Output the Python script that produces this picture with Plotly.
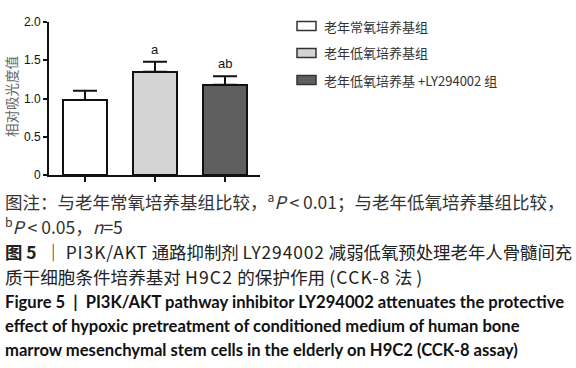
import plotly.graph_objects as go

groups = ["老年常氧培养基组", "老年低氧培养基组", "老年低氧培养基 +LY294002 组"]
values = [0.98, 1.35, 1.18]
errors = [0.12, 0.13, 0.11]
sig_labels = ["", "a", "ab"]
colors = ["#ffffff", "#d4d4d4", "#5f5f5f"]
y_ticks = [0, 0.5, 1.0, 1.5, 2.0]
y_ticklabels = ["0", "0.5", "1.0", "1.5", "2.0"]

W, H = 576, 368
L, R, T, B = 49, 260, 22, 175  # plot area in window pixels

def px(x):
    return (x - L) / (R - L)

def py(y):
    return (B - y) / (B - T)

def sp(t, ls):
    return "<span style='letter-spacing:%spx'>%s</span>" % (ls, t)

xpos = list(range(len(groups)))

fig = go.Figure()
fig.add_trace(go.Bar(
    x=xpos, y=values, width=0.64,
    marker=dict(color=colors, line=dict(color="#111111", width=2)),
    error_y=dict(type="data", symmetric=False, array=errors,
                 arrayminus=[0] * len(errors), color="#111111",
                 thickness=2, width=12),
    showlegend=False,
))

for xi, v, e, s in zip(xpos, values, errors, sig_labels):
    if s:
        fig.add_annotation(x=xi, y=v + e, text=s, showarrow=False,
                           yanchor="bottom", yshift=3,
                           font=dict(family="Liberation Sans", size=13, color="#111111"))

leg_y = [26, 53, 80]
for g, c, yy in zip(groups, colors, leg_y):
    fig.add_shape(type="rect", xref="paper", yref="paper",
                  x0=px(297), x1=px(316), y0=py(yy + 4.5), y1=py(yy - 4.5),
                  fillcolor=c, line=dict(color="#333333", width=1.5))
    fig.add_annotation(xref="paper", yref="paper", x=px(322), y=py(yy),
                       text=g, showarrow=False, xanchor="left", yanchor="middle",
                       font=dict(family="Noto Sans CJK SC", size=13, color="#333333"))

fig.add_annotation(xref="paper", yref="paper", x=px(11), y=py(97),
                   text="相对吸光度值", textangle=-90, showarrow=False,
                   xanchor="center", yanchor="middle",
                   font=dict(family="Noto Sans CJK SC", size=13.5, color="#666666"))

cap_font = "Noto Sans CJK SC"
captions = [
    (201, "图注：与老年常氧培养基组比较，<sup>a</sup><i>P</i> &lt; 0.01；与老年低氧培养基组比较，",
     17.5, "#333333"),
    (226, "<sup>b</sup><i>P</i> &lt; 0.05，<i>n</i>=5", 17.5, "#333333"),
    (251, "<b>图 5</b>  ｜ " + sp("PI3K/AKT", 0.9) + " 通路抑制剂 " + sp("LY294002", 0.9)
     + " 减弱低氧预处理老年人骨髓间充", 17.4, "#222222"),
    (276, "质干细胞条件培养基对 " + sp("H9C2", 1.2) + " 的保护作用 " + sp("(CCK-8", 1.2) + " 法 )",
     17.6, "#222222"),
]
for yy, t, fs, col in captions:
    fig.add_annotation(xref="paper", yref="paper", x=px(3), y=py(yy), text=t,
                       showarrow=False, xanchor="left", yanchor="middle",
                       font=dict(family=cap_font, size=fs, color=col))

eng = [
    (302, "<b>Figure 5  |  PI3K/AKT pathway inhibitor LY294002 attenuates the protective</b>"),
    (326, "<b>effect of hypoxic pretreatment of conditioned medium of human bone</b>"),
    (350, "<b>marrow mesenchymal stem cells in the elderly on H9C2 (CCK-8 assay)</b>"),
]
for yy, t in eng:
    fig.add_annotation(xref="paper", yref="paper", x=px(3), y=py(yy), text=t,
                       showarrow=False, xanchor="left", yanchor="middle",
                       font=dict(family="Lato", size=16.6, color="#111111"))

fig.update_layout(
    width=W, height=H,
    margin=dict(l=L, r=W - R, t=T, b=H - B, pad=0, autoexpand=False),
    paper_bgcolor="white", plot_bgcolor="white",
    bargap=0,
    xaxis=dict(range=[-0.514, 2.5], showticklabels=False, tickvals=xpos,
               ticks="outside", ticklen=5, tickwidth=2, tickcolor="#111111",
               showline=True, linecolor="#111111", linewidth=2,
               showgrid=False, zeroline=False, fixedrange=True, automargin=False),
    yaxis=dict(range=[0, 2.0], tickvals=y_ticks, ticktext=y_ticklabels,
               ticks="outside", ticklen=4, tickwidth=2, tickcolor="#111111",
               showline=True, linecolor="#111111", linewidth=2,
               showgrid=False, zeroline=False, automargin=False,
               tickfont=dict(family="Liberation Sans", size=12, color="#111111")),
    font=dict(family="Noto Sans CJK SC"),
)

fig.write_html("out.html", config={"displayModeBar": False},
               post_script="document.body.style.margin='0';document.body.style.overflow='hidden';")
